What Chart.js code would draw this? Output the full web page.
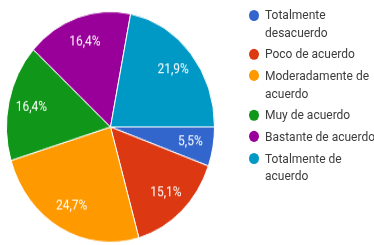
<!DOCTYPE html>
<html>
<head>
<meta charset="utf-8">
<script src="https://cdn.jsdelivr.net/npm/chart.js@4"></script>
<style>
  html, body { margin: 0; padding: 0; background: #fff; overflow: hidden; }
  #wrap { position: absolute; left: 0; top: 0; width: 374px; height: 221px;
          transform: scaleY(1.1086); transform-origin: 0 0; }
  #c { position: absolute; left: 0; top: 0; }
  #legend { position: absolute; left: 248px; top: 6px; font-family: Roboto, sans-serif;
            font-size: 12px; color: #3c3c3c; white-space: nowrap; }
  .item { position: relative; padding-left: 17px; line-height: 15.8px; margin-bottom: 3.8px; }
  .dot { position: absolute; left: 1px; top: 2.5px; width: 10px; height: 10px; border-radius: 50%; }
</style>
</head>
<body>
<div id="wrap">
  <canvas id="c" width="221" height="221"></canvas>
  <div id="legend"></div>
</div>
<script>
const categories = ["Totalmente desacuerdo", "Poco de acuerdo", "Moderadamente de acuerdo", "Muy de acuerdo", "Bastante de acuerdo", "Totalmente de acuerdo"];
const legendLines = [["Totalmente", "desacuerdo"], ["Poco de acuerdo"], ["Moderadamente de", "acuerdo"], ["Muy de acuerdo"], ["Bastante de acuerdo"], ["Totalmente de", "acuerdo"]];
const values = [5.5, 15.1, 24.7, 16.4, 16.4, 21.9];
const colors = ["#3366cc", "#dc3912", "#ff9900", "#109618", "#990099", "#0099c6"];

const legend = document.getElementById('legend');
legendLines.forEach((lines, i) => {
  const d = document.createElement('div');
  d.className = 'item';
  const dot = document.createElement('span');
  dot.className = 'dot';
  dot.style.background = colors[i];
  d.appendChild(dot);
  lines.forEach((t, j) => {
    if (j) d.appendChild(document.createElement('br'));
    d.appendChild(document.createTextNode(t));
  });
  legend.appendChild(d);
});

const sliceLabels = {
  id: 'sliceLabels',
  afterDatasetsDraw(chart) {
    const ctx = chart.ctx;
    const meta = chart.getDatasetMeta(0);
    ctx.save();
    ctx.fillStyle = '#ffffff';
    ctx.font = '12px Roboto, sans-serif';
    ctx.textAlign = 'center';
    ctx.textBaseline = 'middle';
    meta.data.forEach((arc, i) => {
      const p = arc.getProps(['x', 'y', 'startAngle', 'endAngle', 'outerRadius'], true);
      const mid = (p.startAngle + p.endAngle) / 2;
      const r = p.outerRadius * 0.78;
      ctx.fillText(values[i].toFixed(1).replace('.', ',') + '%', p.x + Math.cos(mid) * r, p.y + Math.sin(mid) * r);
    });
    ctx.restore();
  }
};

new Chart(document.getElementById('c'), {
  type: 'pie',
  data: {
    labels: categories,
    datasets: [{ data: values, backgroundColor: colors, borderColor: '#ffffff', borderWidth: 1 }]
  },
  options: {
    responsive: false,
    devicePixelRatio: 1,
    animation: false,
    rotation: 90,
    layout: { padding: { left: 6, right: 6, top: 10, bottom: 2 } },
    plugins: { legend: { display: false }, tooltip: { enabled: false } }
  },
  plugins: [sliceLabels]
});
</script>
</body>
</html>
